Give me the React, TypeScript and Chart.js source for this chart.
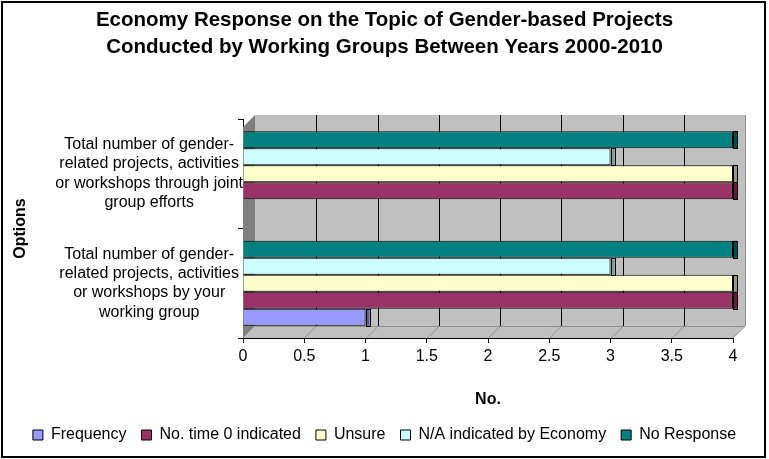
import React, { useEffect, useRef } from "react";
import { Chart, registerables } from "chart.js";

Chart.register(...registerables);

const FONT = 'Arial, "Liberation Sans", sans-serif';

const titleLines = [
  "Economy Response on the Topic of Gender-based Projects",
  "Conducted by Working Groups Between Years 2000-2010",
];

// Categories, top to bottom as drawn
const categories = [
  ["Total number of gender-", "related projects, activities", "or workshops through joint", "group efforts"],
  ["Total number of gender-", "related projects, activities", "or workshops by your", "working group"],
];

const seriesNames = ["Frequency", "No. time 0 indicated", "Unsure", "N/A indicated by Economy", "No Response"];
const seriesColors = ["#9999FF", "#993366", "#FFFFCC", "#CCFFFF", "#008080"];

const frequency = [0, 1];
const noTime0 = [4, 4];
const unsure = [4, 4];
const naByEconomy = [3, 3];
const noResponse = [4, 4];

const xTickLabels = ["0", "0.5", "1", "1.5", "2", "2.5", "3", "3.5", "4"];
const xTicksStep = 0.5;
const xMin = 0;
const xMax = 4;

function darken(hex: string, f: number) {
  const n = parseInt(hex.slice(1), 16);
  const r = Math.round(((n >> 16) & 255) * f);
  const g = Math.round(((n >> 8) & 255) * f);
  const b = Math.round((n & 255) * f);
  return `rgb(${r},${g},${b})`;
}

const wallPlugin = {
  id: "wall3d",
  beforeDatasetsDraw(chart: any) {
    const { ctx, chartArea } = chart;
    const { left: L, right: R, top: T, bottom: B } = chartArea;
    const d = 12;
    const backTop = T - 4;
    const backBottom = B - d;
    const xs = chart.scales.x;
    ctx.save();
    ctx.fillStyle = "#C0C0C0";
    ctx.fillRect(L + d, backTop, R - L, backBottom - backTop);
    ctx.fillStyle = "#C0C0C0";
    ctx.beginPath();
    ctx.moveTo(L, B);
    ctx.lineTo(L + d, backBottom);
    ctx.lineTo(R + d, backBottom);
    ctx.lineTo(R, B);
    ctx.closePath();
    ctx.fill();
    ctx.fillStyle = "#808080";
    ctx.beginPath();
    ctx.moveTo(L, backTop + d);
    ctx.lineTo(L + d, backTop);
    ctx.lineTo(L + d, backBottom);
    ctx.lineTo(L, B);
    ctx.closePath();
    ctx.fill();
    ctx.lineWidth = 1;
    for (let v = xMin + xTicksStep; v < xMax; v += xTicksStep) {
      const px = Math.round(xs.getPixelForValue(v)) + 0.5;
      ctx.strokeStyle = "#000";
      ctx.beginPath();
      ctx.moveTo(px + d, backTop);
      ctx.lineTo(px + d, backBottom);
      ctx.stroke();
      ctx.strokeStyle = "#909090";
      ctx.beginPath();
      ctx.moveTo(px, B);
      ctx.lineTo(px + d, backBottom);
      ctx.stroke();
    }
    ctx.strokeStyle = "#909090";
    ctx.beginPath();
    ctx.moveTo(R + d + 0.5, backTop);
    ctx.lineTo(R + d + 0.5, backBottom);
    ctx.lineTo(R, B);
    ctx.stroke();
    ctx.beginPath();
    ctx.moveTo(L + d, backBottom + 0.5);
    ctx.lineTo(R + d, backBottom + 0.5);
    ctx.stroke();
    ctx.restore();
  },
  afterDatasetsDraw(chart: any) {
    const { ctx } = chart;
    ctx.save();
    chart.data.datasets.forEach((ds: any, i: number) => {
      const meta = chart.getDatasetMeta(i);
      meta.data.forEach((el: any, j: number) => {
        const v = ds.data[j];
        if (!v) return;
        const h = el.height;
        const top = el.y - h / 2;
        ctx.fillStyle = darken(ds.backgroundColor, 0.6);
        ctx.fillRect(el.x, top, 4, h);
        ctx.strokeStyle = "#000";
        ctx.lineWidth = 1;
        ctx.strokeRect(Math.round(el.x) + 0.5, Math.round(top) + 0.5, 4, Math.round(h));
      });
    });
    ctx.restore();
  },
  afterDraw(chart: any) {
    const { ctx } = chart;
    ctx.save();
    ctx.strokeStyle = "#000";
    ctx.lineWidth = 2;
    ctx.strokeRect(2, 2, 763, 455);
    ctx.restore();
  },
};

export default function App() {
  const ref = useRef<HTMLCanvasElement | null>(null);

  useEffect(() => {
    document.body.style.margin = "0";
    const canvas = ref.current;
    if (!canvas) return;
    const order = [4, 3, 2, 1, 0];
    const values = [frequency, noTime0, unsure, naByEconomy, noResponse];
    const chart = new Chart(canvas, {
      type: "bar",
      data: {
        labels: categories,
        datasets: order.map((k) => ({
          label: seriesNames[k],
          data: values[k],
          backgroundColor: seriesColors[k],
          borderColor: "#000000",
          borderWidth: 1,
          categoryPercentage: 0.776,
          barPercentage: 1,
        })),
      },
      plugins: [wallPlugin],
      options: {
        indexAxis: "y",
        responsive: false,
        animation: false,
        devicePixelRatio: 1,
        layout: { padding: { left: 0, right: 0, top: 0, bottom: 6 } },
        plugins: {
          title: {
            display: true,
            text: titleLines,
            color: "#000",
            font: { family: FONT, size: 20.5, weight: "bold", lineHeight: 27 / 20.5 },
            padding: { top: 6.5, bottom: 58.5 },
          },
          legend: {
            position: "bottom",
            reverse: true,
            labels: {
              color: "#000",
              font: { family: FONT, size: 16 },
              boxWidth: 10,
              boxHeight: 10,
              padding: 15,
            },
          },
          tooltip: { enabled: false },
        },
        scales: {
          x: {
            min: xMin,
            max: xMax,
            ticks: {
              stepSize: xTicksStep,
              color: "#000",
              font: { family: FONT, size: 16 },
              padding: 3.5,
              maxRotation: 0,
              callback: (_v: any, i: number) => xTickLabels[i],
            },
            grid: { drawOnChartArea: false, drawTicks: true, tickLength: 5, color: "#000" },
            border: { display: true, color: "#000" },
            title: {
              display: true,
              text: "No.",
              color: "#000",
              font: { family: FONT, size: 16, weight: "bold" },
              padding: { top: 0, bottom: 2.4 },
            },
            afterFit: (s: any) => {
              s.height = 74;
            },
          },
          y: {
            ticks: {
              color: "#000",
              crossAlign: "center",
              font: { family: FONT, size: 16, lineHeight: 1.21 },
              padding: -5,
            },
            grid: { drawOnChartArea: false, drawTicks: true, tickLength: 5, color: "#000", offset: true },
            border: { display: true, color: "#000" },
            title: {
              display: true,
              text: "Options",
              color: "#000",
              font: { family: FONT, size: 16, weight: "bold" },
              padding: { top: 10.5, bottom: 0 },
            },
            afterFit: (s: any) => {
              s.width = 243;
            },
          },
          ySpacer: {
            type: "linear",
            position: "right",
            display: true,
            ticks: { display: false },
            grid: { display: false, drawTicks: false },
            border: { display: false },
            afterFit: (s: any) => {
              s.width = 36;
            },
          },
        },
      } as any,
    });
    return () => chart.destroy();
  }, []);

  return (
    <div style={{ width: 769, height: 459 }}>
      <canvas ref={ref} width={769} height={459} style={{ display: "block" }} />
    </div>
  );
}
